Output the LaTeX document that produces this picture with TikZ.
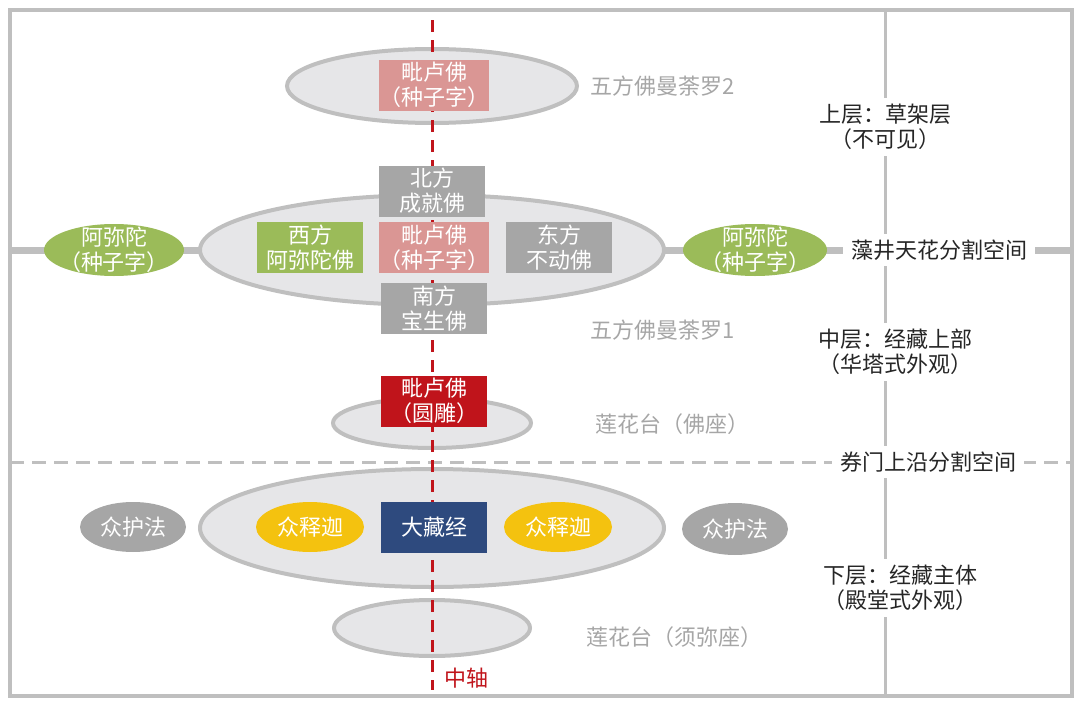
\documentclass[tikz,border=0pt]{standalone}
\usepackage{fontspec}
\setmainfont{Noto Sans CJK SC}
\usetikzlibrary{shapes.geometric}
\definecolor{kline}{HTML}{BFBFBF}
\definecolor{kfill}{HTML}{E6E6E8}
\definecolor{kpink}{HTML}{DA9694}
\definecolor{kgray}{HTML}{A6A6A6}
\definecolor{kgreen}{HTML}{9BBB59}
\definecolor{kred}{HTML}{C0141B}
\definecolor{knavy}{HTML}{2E4A7E}
\definecolor{kyellow}{HTML}{F4C20F}
\tikzset{
  kfont/.style={font=\fontsize{22}{25}\selectfont},
  box/.style={rectangle, minimum width=106pt, minimum height=51pt, inner sep=0pt, align=center, text=white, kfont},
  kseed/.style={box, fill=kpink}, kdir/.style={box, fill=kgray},
  kwest/.style={box, fill=kgreen}, kstatue/.style={box, fill=kred},
  kcanon/.style={box, fill=knavy},
  ring/.style={ellipse, draw=kline, line width=4pt, fill=kfill, inner sep=0pt},
  blob/.style={ellipse, inner sep=0pt, text=white, kfont, align=center},
  seedblob/.style={blob, fill=kgreen, inner xsep=-8pt, inner ysep=-8pt},
  note/.style={kfont, text=kgray, anchor=west, inner sep=0pt},
  layer/.style={kfont, text=black!85, fill=white, align=center, inner xsep=8pt, inner ysep=6pt},
}
\begin{document}
\begin{tikzpicture}[x=1pt, y=-1pt]
    \useasboundingbox (0,0) rectangle (1080,707);
    \coordinate (tl) at (10,10);
    \coordinate (br) at (1072,696);
    \coordinate (vtop) at (885,10);
    \coordinate (vbot) at (885,696);
    \coordinate (ceilL) at (10,250);
    \coordinate (ceilR) at (1072,250);
    \coordinate (archL) at (10,462);
    \coordinate (archR) at (1072,462);
    \coordinate (axtop) at (432,20);
    \coordinate (axbot) at (432,690);
    % frame and dividers
    \draw[kline, line width=4pt] (tl) rectangle (br);
    \draw[kline, line width=3pt] (vtop) -- (vbot);
    \draw[kline, line width=7pt] (ceilL) -- (ceilR);
    \draw[kline, line width=3pt, dash pattern=on 14pt off 8pt] (archL) -- (archR);
    % rings
    \node[ring, minimum width=290pt, minimum height=74pt] (mandala2) at (432,86) {};
    \node[ring, minimum width=464pt, minimum height=110pt] (mandala1) at (432,250) {};
    \node[ring, minimum width=198pt, minimum height=50pt] (seat) at (432,423) {};
    \node[ring, minimum width=464pt, minimum height=118pt] (hall) at (432,528) {};
    \node[ring, minimum width=196pt, minimum height=56pt] (sumeru) at (432,628) {};
    % central axis
    \draw[kred, line width=3pt, dash pattern=on 12pt off 8pt] (axtop) -- (axbot);
    \node[kfont, text=kred, anchor=west, inner sep=0pt] (axis) at (444,678) {中轴};
    % boxes
    \node[kseed] (seed2) at (434,85) {毗卢佛\\（种子字）};
    \node[kdir] (north) at (432,191) {北方\\成就佛};
    \node[kseed] (seed1) at (434,247.5) {毗卢佛\\（种子字）};
    \node[kdir] (south) at (434,308.5) {南方\\宝生佛};
    \node[kwest] (west) at (310,247.5) {西方\\阿弥陀佛};
    \node[kdir] (east) at (559,247.5) {东方\\不动佛};
    \node[kstatue] (statue) at (434,401) {毗卢佛\\（圆雕）};
    \node[kcanon] (canon) at (434,527.5) {大藏经};
    % small ellipses
    \node[seedblob, minimum width=140pt, minimum height=52pt] (amitaL) at (114,250) {阿弥陀\\（种子字）};
    \node[seedblob, minimum width=144pt, minimum height=52pt] (amitaR) at (755,250) {阿弥陀\\（种子字）};
    \node[blob, fill=kyellow, minimum width=108pt, minimum height=50pt] (shakaL) at (310,527) {众释迦};
    \node[blob, fill=kyellow, minimum width=108pt, minimum height=50pt] (shakaR) at (558,527) {众释迦};
    \node[blob, fill=kgray, minimum width=106pt, minimum height=50pt] (guardL) at (133,527) {众护法};
    \node[blob, fill=kgray, minimum width=106pt, minimum height=52pt] (guardR) at (735,529) {众护法};
    % notes
    \node[note] (n2) at (590,86) {五方佛曼荼罗2};
    \node[note] (n1) at (590,330) {五方佛曼荼罗1};
    \node[note] (nseat) at (595,424) {莲花台（佛座）};
    \node[note] (nsumeru) at (586,637) {莲花台（须弥座）};
    % layers
    \node[layer] (upper) at (885,127) {上层：草架层\\（不可见）};
    \node[layer] (ceiling) at (939,250) {藻井天花分割空间};
    \node[layer] (middle) at (895,352) {中层：经藏上部\\（华塔式外观）};
    \node[layer] (arch) at (928,462) {券门上沿分割空间};
    \node[layer] (lower) at (900,588) {下层：经藏主体\\（殿堂式外观）};
  \end{tikzpicture}
\end{document}
